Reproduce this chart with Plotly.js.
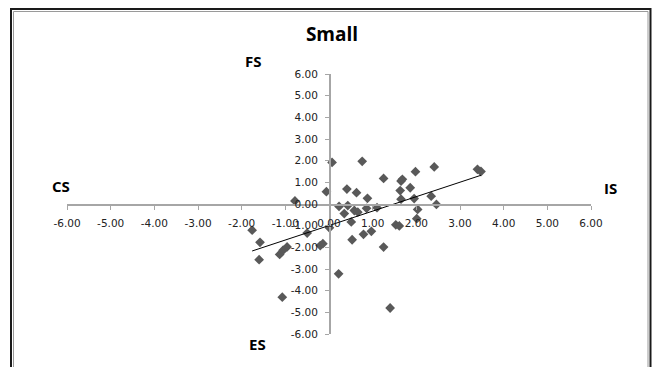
<!DOCTYPE html>
<html>
<head>
<meta charset="utf-8">
<script src="https://cdn.plot.ly/plotly-3.0.1.min.js"></script>
<style>
html,body{margin:0;padding:0;background:#fff;}
#chart{width:653px;height:367px;}
</style>
</head>
<body>
<div id="chart"></div>
<script>
// Data (x = IS/CS axis, y = FS/ES axis)
const xVals = [0.07, 0.76, 2.41, 1.98, 3.40, 3.48, 1.25, 1.65, 1.68, 1.63,
               1.86, 0.41, 0.63, -0.06, 0.88, 1.65, 1.95, 2.34, 2.46, -0.78,
               0.23, 0.43, 0.35, 0.58, 0.66, 0.86, 1.10, 2.03, 2.01, 0.51,
               1.53, 1.61, 0.01, -0.50, 0.53, 0.79, 0.97, 1.25, -0.20, -0.14,
               -1.76, -1.58, -1.60, -1.13, -1.05, -0.96, 0.22, -1.07, 1.40];
const yVals = [1.92, 1.97, 1.71, 1.49, 1.60, 1.50, 1.18, 1.06, 1.14, 0.62,
               0.75, 0.69, 0.52, 0.57, 0.26, 0.22, 0.25, 0.36, -0.02, 0.14,
               -0.11, -0.07, -0.44, -0.30, -0.38, -0.20, -0.17, -0.25, -0.68, -0.83,
               -0.96, -1.01, -1.10, -1.34, -1.65, -1.40, -1.26, -1.99, -1.92, -1.83,
               -1.21, -1.77, -2.57, -2.33, -2.13, -1.98, -3.22, -4.30, -4.80];
const tickValues = [-6, -5, -4, -3, -2, -1, 0, 1, 2, 3, 4, 5, 6];
const tickLabels = ["-6.00", "-5.00", "-4.00", "-3.00", "-2.00", "-1.00", "0.00",
                    "1.00", "2.00", "3.00", "4.00", "5.00", "6.00"];
const chartTitle = "Small";
const quadrantLabels = ["FS", "CS", "IS", "ES"];

// Linear trend line (least squares) over the data range
const n = xVals.length;
let sx = 0, sy = 0, sxx = 0, sxy = 0;
for (let i = 0; i < n; i++) { sx += xVals[i]; sy += yVals[i]; sxx += xVals[i]*xVals[i]; sxy += xVals[i]*yVals[i]; }
const slope = (n*sxy - sx*sy) / (n*sxx - sx*sx);
const intercept = (sy - slope*sx) / n;
const xMin = Math.min(...xVals), xMax = Math.max(...xVals);
const trendX = [xMin, xMax];
const trendY = trendX.map(v => slope*v + intercept);

const W = 653, H = 367;
const px = v => v / W;
const py = v => (H - v) / H;

const axisCommon = {
  range: [-6, 6],
  tickmode: 'array',
  tickvals: tickValues,
  ticktext: tickLabels,
  showgrid: false,
  zeroline: false,
  showline: true,
  linecolor: '#a6a6a6',
  linewidth: 1.5,
  ticks: 'outside',
  ticklen: 4,
  tickwidth: 1,
  tickcolor: '#a6a6a6',
  tickfont: {family: 'DejaVu Sans', size: 10.5, color: '#222'},
  anchor: 'free',
  fixedrange: true
};

const traces = [
  {
    x: xVals, y: yVals, type: 'scatter', mode: 'markers',
    marker: {symbol: 'diamond', size: 7.5, color: '#595959', line: {width: 0}},
    hoverinfo: 'x+y', showlegend: false
  },
  {
    x: trendX, y: trendY, type: 'scatter', mode: 'lines',
    line: {color: '#000', width: 1},
    hoverinfo: 'skip', showlegend: false
  }
];

const lbl = (text, x, y) => ({
  text: text, xref: 'paper', yref: 'paper', x: px(x), y: py(y),
  xanchor: 'center', yanchor: 'middle', showarrow: false,
  font: {family: 'Open Sans', size: 15, color: '#000', weight: 'bold'}
});

const layout = {
  width: W, height: H,
  margin: {l: 0, r: 0, t: 0, b: 0},
  paper_bgcolor: '#fff', plot_bgcolor: 'rgba(0,0,0,0)',
  showlegend: false,
  title: {
    text: '<b>' + chartTitle + '</b>',
    x: px(332), xanchor: 'center',
    y: py(34), yanchor: 'middle',
    font: {family: 'Open Sans', size: 19, color: '#000'}
  },
  xaxis: Object.assign({}, axisCommon, {
    domain: [px(67), px(591)],
    position: py(204),
    ticklabelstandoff: 5
  }),
  yaxis: Object.assign({}, axisCommon, {
    domain: [py(334), py(74)],
    position: px(329),
    ticklabelstandoff: 5
  }),
  annotations: [
    lbl(quadrantLabels[0], 253, 61),
    lbl(quadrantLabels[1], 61, 186),
    lbl(quadrantLabels[2], 610, 188),
    lbl(quadrantLabels[3], 257, 344)
  ],
  shapes: [
    {type: 'rect', xref: 'paper', yref: 'paper', x0: px(11), x1: px(650.5), y0: py(380), y1: py(9),
     line: {color: '#1a1a1a', width: 2}, fillcolor: 'rgba(0,0,0,0)', layer: 'above'},
    {type: 'rect', xref: 'paper', yref: 'paper', x0: px(13.5), x1: px(648), y0: py(380), y1: py(11.5),
     line: {color: '#9a9a9a', width: 1}, fillcolor: 'rgba(0,0,0,0)', layer: 'above'}
  ]
};

Plotly.newPlot('chart', traces, layout, {displayModeBar: false, staticPlot: true});
</script>
</body>
</html>
